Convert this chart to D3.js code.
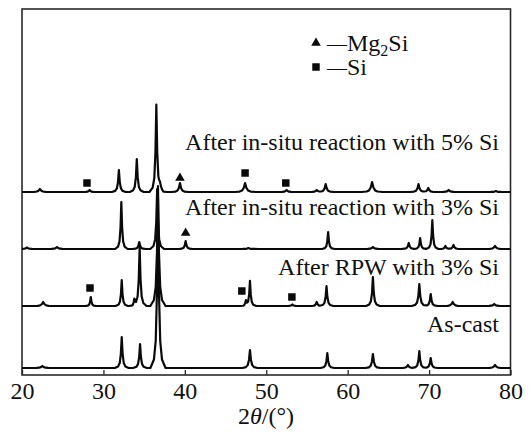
<!DOCTYPE html>
<html><head><meta charset="utf-8">
<script src="https://cdn.jsdelivr.net/npm/d3@7"></script>
<style>
body{margin:0;background:#fff}
svg{display:block}
</style>
</head><body>
<svg id="chart" width="529" height="432"></svg>
<script>
// ---------------- DATA ----------------
const tickValues = [20, 30, 40, 50, 60, 70, 80];
const seriesNames = [
  "As-cast",
  "After RPW with 3% Si",
  "After in-situ reaction with 3% Si",
  "After in-situ reaction with 5% Si"
];
// peaks: [2θ (°), intensity (a.u.), relative peak width]
const peaksAsCast = [
  [22.5, 2, 1.6], [32.25, 31, 1], [34.5, 24, 1], [36.7, 170, 1.1], [48.0, 18, 1.1],
  [57.5, 15, 1], [63.1, 14, 1.1], [67.4, 3, 1.2], [68.8, 17, 1], [70.2, 10, 1], [78.1, 3, 1.4]
];
const peaksRPW = [
  [22.6, 4, 1.5], [28.45, 9, 0.8], [32.25, 26, 0.9], [33.8, 6, 0.8], [34.45, 59, 1],
  [36.7, 120, 1.1], [47.5, 5, 0.8], [48.0, 25, 0.9], [53.2, 1.5, 1], [56.2, 4, 1],
  [57.4, 20, 1], [63.1, 29, 1], [68.8, 22, 1.1], [70.2, 12, 1], [72.9, 4, 1.4], [78.0, 2, 1.4]
];
const peaksInsitu3 = [
  [20.6, 1.5, 1.4], [24.3, 2, 1.5], [32.2, 47, 0.9], [34.4, 7, 1], [36.6, 60, 1],
  [40.1, 8, 1], [47.8, 1, 1.5], [57.6, 17, 0.9], [63.1, 2, 1.4], [67.5, 6, 1.1],
  [68.9, 11, 0.9], [70.4, 29, 0.9], [72.0, 3, 1], [73.0, 4, 1.1], [78.1, 3, 1.4]
];
const peaksInsitu5 = [
  [22.2, 3, 1.5], [28.3, 2, 1], [31.9, 22, 1], [34.1, 33, 1], [36.5, 87, 1],
  [36.95, 6, 1], [39.4, 9, 1.2], [47.4, 9, 1.5], [52.5, 2, 1.2], [56.2, 2, 1.2],
  [57.3, 8, 1.2], [63.0, 10, 1.5], [68.7, 8, 1.2], [69.9, 4, 1.2], [72.4, 2, 1.4], [78.2, 1, 1.4]
];
// phase markers: series index, phase, 2θ, intensity above the trace baseline
const markerSeries = [3, 3, 3, 3, 2, 1, 1, 1];
const markerPhase  = ["Si", "Mg2Si", "Si", "Si", "Mg2Si", "Si", "Si", "Si"];
const markerTheta  = [27.98, 39.4, 47.4, 52.4, 40.1, 28.35, 47.0, 53.15];
const markerI      = [9, 14, 19, 9, 16, 18, 15, 9];

// ---------------- LAYOUT ----------------
const FONT = '"Liberation Serif","Tinos","Times New Roman",serif';
const allPeaks = [peaksAsCast, peaksRPW, peaksInsitu3, peaksInsitu5];
const offsets = [7, 69, 126, 183];            // vertical stacking (a.u.)
const labelY = [332, 275, 215, 150];
const svg = d3.select("#chart");
const x = d3.scaleLinear().domain([20, 80]).range([22, 510.5]);
const y = d3.scaleLinear().domain([0, 366]).range([375, 9]);

// piecewise-linear peak profile (relative offset in °, fraction of height)
const kernel = [[-0.85,0],[-0.45,0.05],[-0.25,0.16],[-0.11,0.45],[0,1],
                [0.11,0.45],[0.25,0.16],[0.45,0.05],[0.85,0]];
function kval(t, w) {
  const u = t / w;
  if (u <= kernel[0][0] || u >= kernel[kernel.length-1][0]) return 0;
  for (let i = 1; i < kernel.length; i++) {
    if (u <= kernel[i][0]) {
      const [x0, y0] = kernel[i-1], [x1, y1] = kernel[i];
      return y0 + (y1 - y0) * (u - x0) / (x1 - x0);
    }
  }
  return 0;
}
function tracePoints(peaks, off) {
  let bps = [20, 80];
  peaks.forEach(([c, h, w]) => kernel.forEach(([d]) => bps.push(c + d * w)));
  bps = bps.filter(t => t >= 20 && t <= 80).sort((a, b) => a - b);
  return bps.map(t => [t, off + d3.sum(peaks, ([c, h, w]) => h * kval(t - c, w))]);
}

const line = d3.line().x(d => x(d[0])).y(d => y(d[1]));

// frame
svg.append("rect").attr("x", 22).attr("y", 9).attr("width", 488.5).attr("height", 366)
  .attr("fill", "none").attr("stroke", "#2a2a2a").attr("stroke-width", 1.6);

// axis ticks
const ax = svg.append("g").attr("transform", "translate(0,375)")
  .call(d3.axisBottom(x).tickValues(tickValues).tickSizeInner(-5).tickSizeOuter(0));
ax.select(".domain").remove();
ax.selectAll(".tick line").attr("stroke", "#2a2a2a").attr("stroke-width", 1.3);
ax.selectAll(".tick text").attr("y", 24).attr("dy", 0)
  .attr("font-size", 24).style("font-family", FONT).attr("fill", "#111");

// traces
allPeaks.forEach((p, i) => {
  svg.append("path").attr("d", line(tracePoints(p, offsets[i])))
    .attr("fill", "none").attr("stroke", "#0a0a0a").attr("stroke-width", 2.2)
    .attr("stroke-linejoin", "round");
});

// labels
seriesNames.forEach((n, i) => {
  svg.append("text").attr("x", 499).attr("y", labelY[i]).attr("text-anchor", "end")
    .attr("font-size", 24).style("font-family", FONT).attr("fill", "#111").text(n);
});

// markers
const sym = {
  "Mg2Si": d3.symbol().type(d3.symbolTriangle).size(40),
  "Si": d3.symbol().type(d3.symbolSquare).size(56)
};
markerTheta.forEach((t, i) => {
  svg.append("path").attr("d", sym[markerPhase[i]]())
    .attr("transform", `translate(${x(t)},${y(offsets[markerSeries[i]] + markerI[i])})`)
    .attr("fill", "#0a0a0a");
});

// legend
const lg = [{ph: "Mg2Si", yy: 51}, {ph: "Si", yy: 75}];
lg.forEach(d => {
  svg.append("path").attr("d", sym[d.ph]()).attr("transform", `translate(316,${d.yy - 8})`)
    .attr("fill", "#0a0a0a");
  const t = svg.append("text").attr("x", 327).attr("y", d.yy).attr("font-size", 24)
    .style("font-family", FONT).attr("fill", "#111");
  t.append("tspan").attr("font-size", 20).text("—");
  if (d.ph === "Mg2Si") {
    t.append("tspan").text("Mg");
    t.append("tspan").attr("font-size", 16).attr("dy", 5).text("2");
    t.append("tspan").attr("dy", -5).text("Si");
  } else {
    t.append("tspan").text("Si");
  }
});

// x-axis title
const tt = svg.append("text").attr("x", 266).attr("y", 424).attr("text-anchor", "middle")
  .attr("font-size", 24).style("font-family", FONT).attr("fill", "#111");
tt.append("tspan").text("2");
tt.append("tspan").attr("font-style", "italic").text("θ");
tt.append("tspan").text("/(°)");
</script>
</body></html>
